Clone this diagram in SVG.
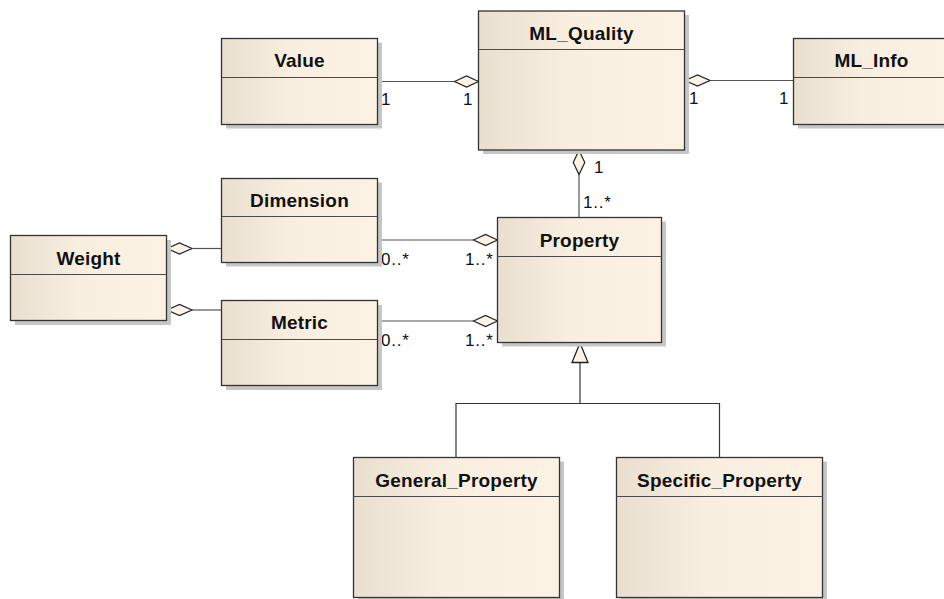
<svg xmlns="http://www.w3.org/2000/svg" width="944" height="599" viewBox="0 0 944 599">
  <style>
    .shadow { fill: #c6c6c6; }
    .box { fill: url(#boxFill); stroke: #333333; stroke-width: 1.3; }
    .sep { stroke: #4a4a4a; stroke-width: 1.2; }
    .name { font-family: "Liberation Sans", Arial, sans-serif; font-weight: bold; font-size: 19px; letter-spacing: 0.2px; fill: #111111; text-anchor: middle; }
    .mult { font-family: "Liberation Sans", Arial, sans-serif; font-size: 17px; letter-spacing: 0.8px; fill: #111111; }
    .assoc { stroke: #555555; stroke-width: 1.2; fill: none; }
    .gen { stroke: #333333; stroke-width: 1.2; fill: none; }
    .diamond { fill: #fbf3e6; stroke: #222222; stroke-width: 1.2; }
    .tri { fill: #fbf3e6; stroke: #222222; stroke-width: 1.3; }
  </style>
  <defs>
    <linearGradient id="boxFill" x1="0" y1="0" x2="1" y2="0">
      <stop offset="0" stop-color="#e8dfcf"/>
      <stop offset="0.45" stop-color="#f8efe1"/>
      <stop offset="1" stop-color="#fbf2e4"/>
    </linearGradient>
  </defs>

  <rect width="944" height="599" fill="#ffffff"/>

  <!-- connectors -->
  <g id="connectors">
    <!-- Value - ML_Quality -->
    <line class="assoc" x1="378" y1="81.5" x2="454.5" y2="81.5"/>
    <polygon class="diamond" points="454.5,81.5 466.5,76 478.5,81.5 466.5,87"/>
    <text class="mult" x="381" y="105">1</text>
    <text class="mult" x="463" y="105">1</text>

    <!-- ML_Quality - ML_Info -->
    <polygon class="diamond" points="685,80.5 697.5,75 710,80.5 697.5,86"/>
    <line class="assoc" x1="710" y1="80.5" x2="793.5" y2="80.5"/>
    <text class="mult" x="689" y="104">1</text>
    <text class="mult" x="779" y="104">1</text>

    <!-- ML_Quality - Property -->
    <polygon class="diamond" points="579,150.5 584.8,162.5 579,174.5 573.2,162.5"/>
    <line class="assoc" x1="579" y1="174.5" x2="579" y2="217.5"/>
    <text class="mult" x="594" y="173">1</text>
    <text class="mult" x="583" y="208">1..*</text>

    <!-- Dimension - Property -->
    <line class="assoc" x1="378" y1="240" x2="473.5" y2="240"/>
    <polygon class="diamond" points="473.5,240 485.5,234.5 497.5,240 485.5,245.5"/>
    <text class="mult" x="381" y="265">0..*</text>
    <text class="mult" x="465" y="265">1..*</text>

    <!-- Metric - Property -->
    <line class="assoc" x1="378" y1="321" x2="473.5" y2="321"/>
    <polygon class="diamond" points="473.5,321 485.5,315.5 497.5,321 485.5,326.5"/>
    <text class="mult" x="381" y="346">0..*</text>
    <text class="mult" x="465" y="346">1..*</text>

    <!-- Weight - Dimension -->
    <polygon class="diamond" points="167,248.5 179.5,243 192,248.5 179.5,254"/>
    <line class="assoc" x1="192" y1="248.5" x2="221.5" y2="248.5"/>

    <!-- Weight - Metric -->
    <polygon class="diamond" points="167,310 179.5,304.5 192,310 179.5,315.5"/>
    <line class="assoc" x1="192" y1="310" x2="221.5" y2="310"/>

    <!-- Generalization: General_Property / Specific_Property -> Property -->
    <polyline class="gen" points="456,457.5 456,403.5 719.5,403.5 719.5,457.5"/>
    <line class="gen" x1="580" y1="403.5" x2="580" y2="362.5"/>
    <polygon class="tri" points="580,343 588,362.5 572,362.5"/>
  </g>

  <!-- nodes -->
  <g id="value">
    <rect class="shadow" x="226" y="42.5" width="156" height="86"/>
    <rect class="box" x="221.5" y="38.5" width="156" height="86"/>
    <line class="sep" x1="221.5" y1="77.5" x2="377.5" y2="77.5"/>
    <text class="name" x="299.5" y="67">Value</text>
  </g>

  <g id="ml_quality">
    <rect class="shadow" x="483" y="15" width="206" height="139"/>
    <rect class="box" x="478.5" y="11" width="206" height="139"/>
    <line class="sep" x1="478.5" y1="49.5" x2="684.5" y2="49.5"/>
    <text class="name" x="581.5" y="40">ML_Quality</text>
  </g>

  <g id="ml_info">
    <rect class="shadow" x="798" y="42.5" width="156" height="86"/>
    <rect class="box" x="793.5" y="38.5" width="156" height="86"/>
    <line class="sep" x1="793.5" y1="77.5" x2="949.5" y2="77.5"/>
    <text class="name" x="871.5" y="67">ML_Info</text>
  </g>

  <g id="dimension">
    <rect class="shadow" x="226" y="182.5" width="156" height="84"/>
    <rect class="box" x="221.5" y="178.5" width="156" height="84"/>
    <line class="sep" x1="221.5" y1="216.5" x2="377.5" y2="216.5"/>
    <text class="name" x="299.5" y="207">Dimension</text>
  </g>

  <g id="weight">
    <rect class="shadow" x="15" y="240" width="156" height="85"/>
    <rect class="box" x="10.5" y="235.5" width="156" height="85"/>
    <line class="sep" x1="10.5" y1="274.5" x2="166.5" y2="274.5"/>
    <text class="name" x="88.5" y="265">Weight</text>
  </g>

  <g id="metric">
    <rect class="shadow" x="226" y="305" width="156" height="85"/>
    <rect class="box" x="221.5" y="300.5" width="156" height="85"/>
    <line class="sep" x1="221.5" y1="339.5" x2="377.5" y2="339.5"/>
    <text class="name" x="299.5" y="329">Metric</text>
  </g>

  <g id="property">
    <rect class="shadow" x="502" y="221.5" width="164" height="125"/>
    <rect class="box" x="497.5" y="217.5" width="164" height="125"/>
    <line class="sep" x1="497.5" y1="256.5" x2="661.5" y2="256.5"/>
    <text class="name" x="579.5" y="247">Property</text>
  </g>

  <g id="general_property">
    <rect class="shadow" x="358" y="461.5" width="206" height="140"/>
    <rect class="box" x="353.5" y="457.5" width="206" height="140"/>
    <line class="sep" x1="353.5" y1="496.5" x2="559.5" y2="496.5"/>
    <text class="name" x="456.5" y="487">General_Property</text>
  </g>

  <g id="specific_property">
    <rect class="shadow" x="621" y="461.5" width="206" height="140"/>
    <rect class="box" x="616.5" y="457.5" width="206" height="140"/>
    <line class="sep" x1="616.5" y1="496.5" x2="822.5" y2="496.5"/>
    <text class="name" x="719.5" y="487">Specific_Property</text>
  </g>
</svg>
